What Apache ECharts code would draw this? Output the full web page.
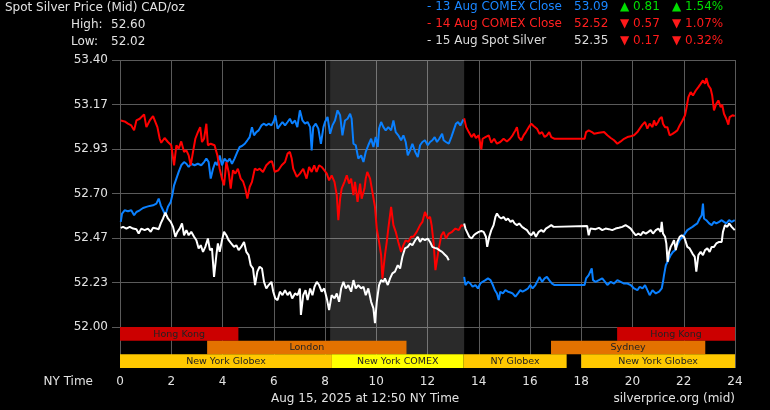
<!DOCTYPE html>
<html>
<head>
<meta charset="utf-8">
<script src="https://cdn.jsdelivr.net/npm/echarts@6/dist/echarts.min.js"></script>
<style>
html,body{margin:0;padding:0;background:#000;}
#c{width:770px;height:410px;}
</style>
</head>
<body>
<div id="c"></div>
<script>
// ---- Data (hours NY time, price CAD/oz) ----
const xTicks = [0,2,4,6,8,10,12,14,16,18,20,22,24];
const yMin = 52.00, yMax = 53.40;

// 13 Aug COMEX Close (blue) - day session 0..13.4
const blueDay = [[0.03,52.551],[0.08,52.595],[0.18,52.612],[0.31,52.607],[0.44,52.612],[0.55,52.586],[0.64,52.603],[0.77,52.612],[0.90,52.624],[1.03,52.630],[1.16,52.635],[1.29,52.638],[1.42,52.647],[1.51,52.673],[1.59,52.638],[1.68,52.612],[1.77,52.586],[1.87,52.630],[1.98,52.656],[2.04,52.691],[2.11,52.743],[2.20,52.778],[2.29,52.813],[2.39,52.848],[2.50,52.865],[2.59,52.856],[2.68,52.839],[2.78,52.856],[2.91,52.848],[3.04,52.856],[3.17,52.848],[3.28,52.865],[3.37,52.883],[3.46,52.865],[3.54,52.778],[3.63,52.830],[3.72,52.865],[3.80,52.848],[3.89,52.900],[3.98,52.848],[4.08,52.883],[4.19,52.865],[4.28,52.883],[4.37,52.856],[4.47,52.883],[4.58,52.918],[4.67,52.944],[4.76,52.949],[4.87,52.961],[4.97,52.979],[5.06,52.996],[5.15,53.048],[5.23,53.005],[5.32,53.022],[5.41,53.031],[5.52,53.057],[5.62,53.066],[5.71,53.057],[5.80,53.066],[5.91,53.057],[6.01,53.083],[6.06,53.110],[6.15,53.040],[6.24,53.057],[6.34,53.075],[6.44,53.057],[6.54,53.075],[6.63,53.092],[6.72,53.066],[6.83,53.083],[6.92,53.048],[7.02,53.136],[7.12,53.083],[7.22,53.066],[7.32,53.075],[7.42,53.048],[7.48,52.926],[7.54,53.048],[7.64,53.066],[7.74,53.040],[7.84,52.961],[7.94,53.048],[8.00,53.075],[8.10,53.101],[8.20,53.013],[8.29,53.057],[8.39,53.083],[8.49,53.136],[8.59,53.110],[8.68,53.005],[8.78,53.083],[8.88,53.092],[8.98,53.118],[9.04,53.092],[9.11,52.961],[9.20,52.953],[9.30,52.883],[9.41,52.900],[9.50,52.865],[9.59,52.918],[9.69,52.953],[9.80,52.987],[9.89,52.944],[9.98,52.996],[10.06,52.944],[10.11,53.040],[10.19,53.075],[10.28,53.048],[10.37,53.031],[10.47,53.048],[10.58,53.031],[10.67,53.083],[10.76,53.022],[10.86,53.005],[10.97,52.979],[11.06,53.005],[11.15,52.970],[11.23,52.900],[11.32,52.926],[11.41,52.961],[11.52,52.918],[11.62,52.891],[11.71,52.953],[11.80,52.970],[11.90,52.979],[12.01,52.953],[12.10,52.970],[12.19,52.979],[12.28,52.996],[12.37,52.970],[12.46,52.987],[12.57,53.013],[12.63,52.979],[12.72,52.970],[12.83,52.961],[12.93,52.996],[13.02,53.031],[13.11,53.066],[13.19,53.075],[13.28,53.057],[13.35,53.075],[13.40,53.089]];
// 13 Aug line - previous evening session 13.4..24
const blueEve = [[13.43,52.263],[13.48,52.220],[13.58,52.237],[13.67,52.228],[13.76,52.211],[13.87,52.220],[13.97,52.202],[14.06,52.228],[14.15,52.237],[14.26,52.246],[14.36,52.255],[14.46,52.246],[14.55,52.220],[14.63,52.193],[14.71,52.176],[14.78,52.141],[14.84,52.185],[14.94,52.176],[15.04,52.193],[15.14,52.185],[15.24,52.181],[15.32,52.176],[15.43,52.159],[15.53,52.176],[15.62,52.193],[15.71,52.185],[15.82,52.193],[15.92,52.202],[16.01,52.220],[16.10,52.202],[16.21,52.220],[16.31,52.246],[16.37,52.263],[16.47,52.237],[16.57,52.255],[16.66,52.263],[16.75,52.246],[16.86,52.228],[16.96,52.220],[18.13,52.220],[18.19,52.255],[18.29,52.272],[18.41,52.307],[18.46,52.246],[18.56,52.237],[18.69,52.246],[18.82,52.255],[18.93,52.237],[19.02,52.220],[19.15,52.237],[19.28,52.228],[19.41,52.246],[19.54,52.237],[19.67,52.228],[19.80,52.228],[19.93,52.220],[20.06,52.202],[20.19,52.193],[20.28,52.211],[20.39,52.202],[20.49,52.220],[20.58,52.193],[20.67,52.167],[20.78,52.193],[20.91,52.176],[21.04,52.185],[21.14,52.202],[21.19,52.237],[21.23,52.272],[21.30,52.324],[21.40,52.351],[21.49,52.377],[21.58,52.394],[21.66,52.403],[21.75,52.429],[21.84,52.455],[21.95,52.473],[22.05,52.490],[22.14,52.508],[22.23,52.516],[22.34,52.525],[22.43,52.534],[22.53,52.543],[22.62,52.569],[22.70,52.586],[22.75,52.647],[22.79,52.569],[22.88,52.560],[22.99,52.543],[23.09,52.534],[23.18,52.551],[23.27,52.543],[23.38,52.551],[23.48,52.560],[23.57,52.551],[23.66,52.543],[23.77,52.560],[23.87,52.551],[23.99,52.560]];

// 14 Aug COMEX Close (red)
const redDay = [[0.03,53.083],[0.18,53.078],[0.31,53.066],[0.44,53.057],[0.55,53.031],[0.64,53.083],[0.77,53.092],[0.94,53.115],[1.03,53.048],[1.16,53.083],[1.29,53.106],[1.35,53.101],[1.46,53.048],[1.55,52.987],[1.61,52.966],[1.74,52.991],[1.87,52.970],[2.00,52.953],[2.11,52.848],[2.20,52.953],[2.29,52.935],[2.39,52.973],[2.50,52.918],[2.59,52.926],[2.68,52.900],[2.76,52.848],[2.85,52.918],[2.94,52.987],[3.04,53.022],[3.13,53.048],[3.20,52.970],[3.28,52.987],[3.37,53.066],[3.43,52.953],[3.54,52.961],[3.69,52.953],[3.80,52.900],[3.89,52.830],[3.98,52.778],[4.06,52.743],[4.15,52.865],[4.24,52.813],[4.32,52.726],[4.41,52.822],[4.50,52.804],[4.60,52.830],[4.71,52.778],[4.80,52.764],[4.89,52.726],[4.97,52.673],[5.06,52.734],[5.15,52.761],[5.26,52.830],[5.36,52.822],[5.45,52.830],[5.58,52.813],[5.71,52.848],[5.84,52.865],[5.93,52.869],[6.04,52.813],[6.18,52.822],[6.31,52.848],[6.44,52.865],[6.54,52.909],[6.63,52.918],[6.70,52.883],[6.76,52.830],[6.90,52.787],[7.02,52.804],[7.15,52.830],[7.28,52.778],[7.38,52.839],[7.48,52.813],[7.58,52.848],[7.67,52.813],[7.77,52.848],[7.87,52.839],[7.97,52.822],[8.07,52.804],[8.16,52.769],[8.26,52.795],[8.37,52.761],[8.46,52.691],[8.52,52.560],[8.59,52.673],[8.65,52.726],[8.76,52.761],[8.85,52.795],[8.94,52.752],[9.02,52.778],[9.11,52.691],[9.17,52.761],[9.27,52.656],[9.37,52.752],[9.43,52.673],[9.54,52.726],[9.59,52.778],[9.65,52.813],[9.76,52.778],[9.85,52.708],[9.95,52.630],[10.02,52.516],[10.11,52.446],[10.19,52.377],[10.24,52.254],[10.34,52.377],[10.41,52.446],[10.47,52.516],[10.58,52.630],[10.67,52.534],[10.76,52.499],[10.86,52.446],[10.97,52.394],[11.06,52.429],[11.15,52.455],[11.25,52.446],[11.36,52.473],[11.45,52.473],[11.58,52.499],[11.71,52.534],[11.80,52.551],[11.90,52.603],[12.01,52.569],[12.10,52.577],[12.16,52.534],[12.24,52.440],[12.31,52.298],[12.44,52.412],[12.54,52.481],[12.63,52.499],[12.72,52.464],[12.83,52.490],[12.96,52.499],[13.09,52.516],[13.22,52.508],[13.32,52.534],[13.41,52.530]];
const redEve = [[13.43,53.095],[13.51,53.048],[13.61,53.022],[13.72,52.996],[13.81,53.013],[13.89,52.991],[14.00,53.005],[14.10,52.932],[14.15,52.987],[14.26,52.996],[14.39,53.005],[14.49,52.966],[14.60,52.987],[14.71,52.961],[14.84,52.970],[14.97,52.987],[15.10,52.973],[15.22,52.987],[15.32,53.005],[15.43,53.031],[15.49,53.048],[15.56,52.996],[15.66,52.979],[15.75,53.005],[15.84,53.022],[15.95,53.048],[16.05,53.066],[16.14,53.054],[16.27,53.040],[16.37,53.013],[16.47,53.022],[16.57,52.996],[16.66,53.005],[16.75,53.022],[16.83,52.996],[16.96,52.987],[18.13,52.987],[18.19,53.022],[18.29,53.031],[18.42,53.022],[18.50,53.013],[18.69,53.019],[18.89,53.022],[19.02,53.005],[19.15,52.991],[19.28,52.979],[19.41,52.961],[19.54,52.973],[19.67,52.987],[19.80,52.996],[19.93,53.000],[20.06,53.005],[20.19,53.022],[20.28,53.040],[20.39,53.061],[20.49,53.075],[20.58,53.040],[20.67,53.066],[20.78,53.048],[20.84,53.083],[20.91,53.057],[21.00,53.075],[21.06,53.092],[21.14,53.101],[21.19,53.066],[21.27,53.048],[21.36,53.048],[21.45,53.005],[21.56,53.013],[21.66,53.022],[21.75,53.031],[21.84,53.057],[21.95,53.083],[22.05,53.110],[22.10,53.144],[22.18,53.205],[22.27,53.232],[22.36,53.214],[22.47,53.240],[22.57,53.258],[22.66,53.275],[22.75,53.293],[22.83,53.275],[22.88,53.305],[22.96,53.267],[23.05,53.249],[23.11,53.214],[23.18,53.136],[23.27,53.171],[23.35,53.188],[23.44,53.153],[23.50,53.165],[23.57,53.118],[23.66,53.092],[23.74,53.061],[23.79,53.101],[23.90,53.110],[23.99,53.106]];

// 15 Aug Spot Silver (white)
const whiteDay = [[0.03,52.520],[0.12,52.525],[0.25,52.516],[0.38,52.525],[0.51,52.516],[0.64,52.513],[0.73,52.490],[0.83,52.516],[0.96,52.508],[1.09,52.516],[1.20,52.499],[1.29,52.520],[1.42,52.516],[1.51,52.513],[1.59,52.543],[1.68,52.569],[1.77,52.600],[1.87,52.569],[1.98,52.551],[2.07,52.525],[2.16,52.473],[2.24,52.499],[2.33,52.516],[2.42,52.543],[2.50,52.481],[2.59,52.508],[2.68,52.481],[2.78,52.499],[2.89,52.473],[2.98,52.455],[3.07,52.412],[3.15,52.429],[3.24,52.394],[3.33,52.420],[3.43,52.464],[3.51,52.403],[3.59,52.412],[3.67,52.263],[3.76,52.377],[3.82,52.438],[3.89,52.394],[3.98,52.455],[4.06,52.499],[4.15,52.481],[4.24,52.455],[4.34,52.438],[4.45,52.420],[4.54,52.429],[4.63,52.403],[4.73,52.420],[4.84,52.446],[4.93,52.394],[5.02,52.377],[5.10,52.324],[5.19,52.307],[5.27,52.220],[5.36,52.290],[5.45,52.316],[5.54,52.307],[5.62,52.237],[5.71,52.202],[5.80,52.220],[5.91,52.237],[5.98,52.185],[6.06,52.150],[6.15,52.141],[6.24,52.185],[6.34,52.167],[6.44,52.193],[6.54,52.167],[6.63,52.185],[6.72,52.150],[6.83,52.176],[6.93,52.167],[7.02,52.202],[7.06,52.063],[7.15,52.167],[7.24,52.193],[7.32,52.141],[7.42,52.202],[7.51,52.167],[7.59,52.211],[7.68,52.237],[7.77,52.220],[7.87,52.185],[7.97,52.202],[8.07,52.150],[8.16,52.089],[8.26,52.167],[8.37,52.150],[8.46,52.176],[8.55,52.132],[8.63,52.202],[8.72,52.237],[8.81,52.202],[8.91,52.220],[9.02,52.185],[9.11,52.246],[9.20,52.202],[9.30,52.220],[9.41,52.202],[9.50,52.211],[9.59,52.167],[9.69,52.202],[9.80,52.132],[9.89,52.098],[9.95,52.020],[10.02,52.132],[10.11,52.220],[10.19,52.246],[10.28,52.237],[10.34,52.255],[10.45,52.220],[10.54,52.255],[10.63,52.281],[10.73,52.290],[10.84,52.324],[10.93,52.307],[11.02,52.368],[11.12,52.412],[11.23,52.420],[11.32,52.438],[11.41,52.429],[11.52,52.455],[11.62,52.473],[11.71,52.446],[11.80,52.464],[11.90,52.455],[12.01,52.464],[12.10,52.446],[12.19,52.420],[12.28,52.415],[12.37,52.412],[12.46,52.403],[12.57,52.394],[12.67,52.380],[12.76,52.368],[12.83,52.350]];
const whiteEve = [[13.43,52.543],[13.48,52.516],[13.54,52.499],[13.63,52.473],[13.72,52.464],[13.81,52.481],[13.89,52.490],[14.00,52.499],[14.10,52.503],[14.19,52.499],[14.28,52.473],[14.33,52.420],[14.41,52.473],[14.49,52.508],[14.58,52.534],[14.65,52.577],[14.71,52.595],[14.80,52.577],[14.88,52.569],[14.97,52.577],[15.06,52.560],[15.14,52.569],[15.24,52.551],[15.32,52.560],[15.40,52.543],[15.49,52.534],[15.58,52.543],[15.69,52.525],[15.79,52.516],[15.88,52.508],[15.97,52.490],[16.05,52.481],[16.14,52.499],[16.23,52.473],[16.34,52.499],[16.44,52.508],[16.53,52.499],[16.62,52.516],[16.73,52.525],[16.83,52.534],[16.92,52.525],[16.99,52.530],[18.23,52.530],[18.29,52.481],[18.36,52.516],[18.43,52.516],[18.56,52.513],[18.69,52.520],[18.82,52.508],[18.95,52.516],[19.08,52.513],[19.21,52.508],[19.34,52.516],[19.47,52.520],[19.60,52.525],[19.73,52.534],[19.84,52.525],[19.93,52.516],[20.02,52.499],[20.13,52.481],[20.23,52.490],[20.32,52.481],[20.41,52.499],[20.52,52.490],[20.62,52.499],[20.71,52.508],[20.80,52.490],[20.91,52.508],[21.01,52.516],[21.10,52.499],[21.14,52.551],[21.19,52.490],[21.27,52.473],[21.32,52.438],[21.37,52.342],[21.43,52.394],[21.49,52.420],[21.56,52.438],[21.62,52.455],[21.69,52.403],[21.75,52.446],[21.84,52.473],[21.92,52.481],[22.01,52.473],[22.08,52.446],[22.14,52.420],[22.23,52.412],[22.34,52.385],[22.43,52.368],[22.49,52.290],[22.57,52.377],[22.66,52.394],[22.75,52.377],[22.83,52.403],[22.92,52.412],[23.01,52.394],[23.09,52.420],[23.18,52.420],[23.27,52.438],[23.38,52.446],[23.48,52.446],[23.53,52.499],[23.61,52.534],[23.70,52.525],[23.77,52.543],[23.87,52.525],[23.99,52.508]];

// Trading sessions: row (0 top), start hour, end hour
const sessionNames  = ['Hong Kong','Hong Kong','London','Sydney','New York Globex','New York COMEX','NY Globex','New York Globex'];
const sessionRows   = [0,0,1,1,2,2,2,2];
const sessionStarts = [0,19.4,3.4,16.82,0,8.27,13.41,18.0];
const sessionEnds   = [4.62,24,11.18,22.84,8.27,13.41,17.43,24];

// COMEX session shading
const comexShade = [8.2, 13.43];
const preShade = [8.0, 8.2];

// Header texts
const titleText = 'Spot Silver Price (Mid) CAD/oz';
const statLabels = ['High:', 'Low:'];
const statValues = ['52.60', '52.02'];
const legendNames = ['13 Aug COMEX Close','14 Aug COMEX Close','15 Aug Spot Silver'];
const legendPrices = ['53.09','52.52','52.35'];
const legendDirs = ['up','down','down'];
const legendChanges = ['0.81','0.57','0.17'];
const legendPcts = ['1.54%','1.07%','0.32%'];
const footerDate = 'Aug 15, 2025 at 12:50 NY Time';
const footerSource = 'silverprice.org (mid)';
const xAxisName = 'NY Time';

// ---- Styles ----
const FONT = 'DejaVu Sans';
const TXT = '#e2e2e2';
const GRID = '#5a5a5a';
const lineColors = {blue:'#0a80ff', red:'#ff0000', white:'#ffffff'};
const legendColors = ['#1a86ff','#ff2020','#dcdcdc'];
const sessionColors = {'Hong Kong':'#cc0000','London':'#e37200','Sydney':'#e37200','New York Globex':'#ffc800','NY Globex':'#ffc800','New York COMEX':'#ffff00'};

const sessionData = sessionNames.map((n,i)=>[sessionRows[i], sessionStarts[i], sessionEnds[i], n]);

function lineSeries(data, color, name){
  return {type:'line', name:name, xAxisIndex:0, yAxisIndex:0, data:data, showSymbol:false, symbol:'none',
    lineStyle:{color:color, width:2}, itemStyle:{color:color}, animation:false, silent:true, z:3};
}

const graphics = [];
graphics.push({type:'text', x:5, y:8, style:{text:titleText, font:'12px '+FONT, fill:TXT, align:'left', verticalAlign:'middle'}});
statLabels.forEach((l,i)=>{
  graphics.push({type:'text', x:71, y:25+17*i, style:{text:l, font:'12px '+FONT, fill:TXT, align:'left', verticalAlign:'middle'}});
  graphics.push({type:'text', x:111, y:25+17*i, style:{text:statValues[i], font:'12px '+FONT, fill:TXT, align:'left', verticalAlign:'middle'}});
});
legendNames.forEach((n,i)=>{
  const y = 7+17*i;
  const c = legendColors[i];
  const dc = legendDirs[i]==='up' ? '#00dd00' : '#ff1a1a';
  const arrow = legendDirs[i]==='up' ? '\u25B2' : '\u25BC';
  graphics.push({type:'text', x:427, y:y, style:{text:'- '+n, font:'12px '+FONT, fill:c, align:'left', verticalAlign:'middle'}});
  graphics.push({type:'text', x:574, y:y, style:{text:legendPrices[i], font:'12px '+FONT, fill:c, align:'left', verticalAlign:'middle'}});
  graphics.push({type:'text', x:620, y:y, style:{text:arrow+' '+legendChanges[i], font:'12px '+FONT, fill:dc, align:'left', verticalAlign:'middle'}});
  graphics.push({type:'text', x:672, y:y, style:{text:arrow+' '+legendPcts[i], font:'12px '+FONT, fill:dc, align:'left', verticalAlign:'middle'}});
});
graphics.push({type:'text', x:93, y:382, style:{text:xAxisName, font:'12px '+FONT, fill:TXT, align:'right', verticalAlign:'middle'}});
graphics.push({type:'text', x:271, y:399, style:{text:footerDate, font:'12px '+FONT, fill:TXT, align:'left', verticalAlign:'middle'}});
graphics.push({type:'text', x:735, y:399, style:{text:footerSource, font:'12px '+FONT, fill:TXT, align:'right', verticalAlign:'middle'}});

const chart = echarts.init(document.getElementById('c'), null, {renderer:'canvas'});
const option = {
  backgroundColor:'#000',
  animation:false,
  grid:[
    {left:120, top:60, width:615, height:267},
    {left:120, top:327, width:615, height:41}
  ],
  xAxis:[
    {type:'value', gridIndex:0, min:0, max:24, interval:2, axisLabel:{show:false}, axisTick:{show:false}, axisLine:{show:false},
      splitLine:{show:true, lineStyle:{color:GRID, width:1}}},
    {type:'value', gridIndex:1, min:0, max:24, interval:2, axisLine:{show:false},
      axisTick:{show:true, length:3, lineStyle:{color:GRID}},
      axisLabel:{show:true, color:TXT, fontSize:12, fontFamily:FONT, margin:8, formatter:v=>String(v)},
      splitLine:{show:true, lineStyle:{color:GRID, width:1}}}
  ],
  yAxis:[
    {type:'value', gridIndex:0, min:yMin, max:yMax, interval:(yMax-yMin)/6,
      axisLine:{show:false}, axisTick:{show:true, length:8, lineStyle:{color:GRID}},
      axisLabel:{color:TXT, fontSize:12, fontFamily:FONT, margin:12, formatter:v=>v.toFixed(2)},
      splitLine:{show:true, lineStyle:{color:GRID, width:1}}},
    {type:'value', gridIndex:1, min:0, max:3, inverse:true, show:false, splitLine:{show:false}}
  ],
  graphic: graphics,
  series:[
    {type:'line', xAxisIndex:0, yAxisIndex:0, data:[], silent:true, z:1,
      markArea:{silent:true, data:[
        [{xAxis:comexShade[0], itemStyle:{color:'rgba(255,255,255,0.165)'}},{xAxis:comexShade[1]}],
        [{xAxis:preShade[0], itemStyle:{color:'rgba(255,255,255,0.07)'}},{xAxis:preShade[1]}]
      ]}},
    {type:'custom', xAxisIndex:1, yAxisIndex:1, data:[], silent:true, z:1,
      renderItem:()=>null,
      markArea:{silent:true, data:[
        [{xAxis:comexShade[0], yAxis:0, itemStyle:{color:'rgba(255,255,255,0.165)'}},{xAxis:comexShade[1], yAxis:2}]
      ]}},
    lineSeries(blueDay, lineColors.blue, '13 Aug'),
    lineSeries(blueEve, lineColors.blue, '13 Aug eve'),
    lineSeries(redDay, lineColors.red, '14 Aug'),
    lineSeries(redEve, lineColors.red, '14 Aug eve'),
    lineSeries(whiteDay, lineColors.white, '15 Aug'),
    lineSeries(whiteEve, lineColors.white, '15 Aug eve'),
    {type:'custom', xAxisIndex:1, yAxisIndex:1, data:sessionData, silent:true, z:4,
      encode:{x:[1,2], y:0},
      renderItem:function(params, api){
        const row = api.value(0), s = api.value(1), e = api.value(2);
        const name = sessionData[params.dataIndex][3];
        const p1 = api.coord([s, row]);
        const p2 = api.coord([e, row+1]);
        return {type:'group', children:[
          {type:'rect', shape:{x:p1[0], y:p1[1], width:p2[0]-p1[0], height:p2[1]-p1[1]}, style:{fill:sessionColors[name]}},
          {type:'text', x:(p1[0]+p2[0])/2, y:(p1[1]+p2[1])/2+0.5, style:{text:name, fill:'#222', font:'9.5px '+FONT, align:'center', verticalAlign:'middle'}}
        ]};
      }}
  ]
};
chart.setOption(option);
</script>
</body>
</html>
